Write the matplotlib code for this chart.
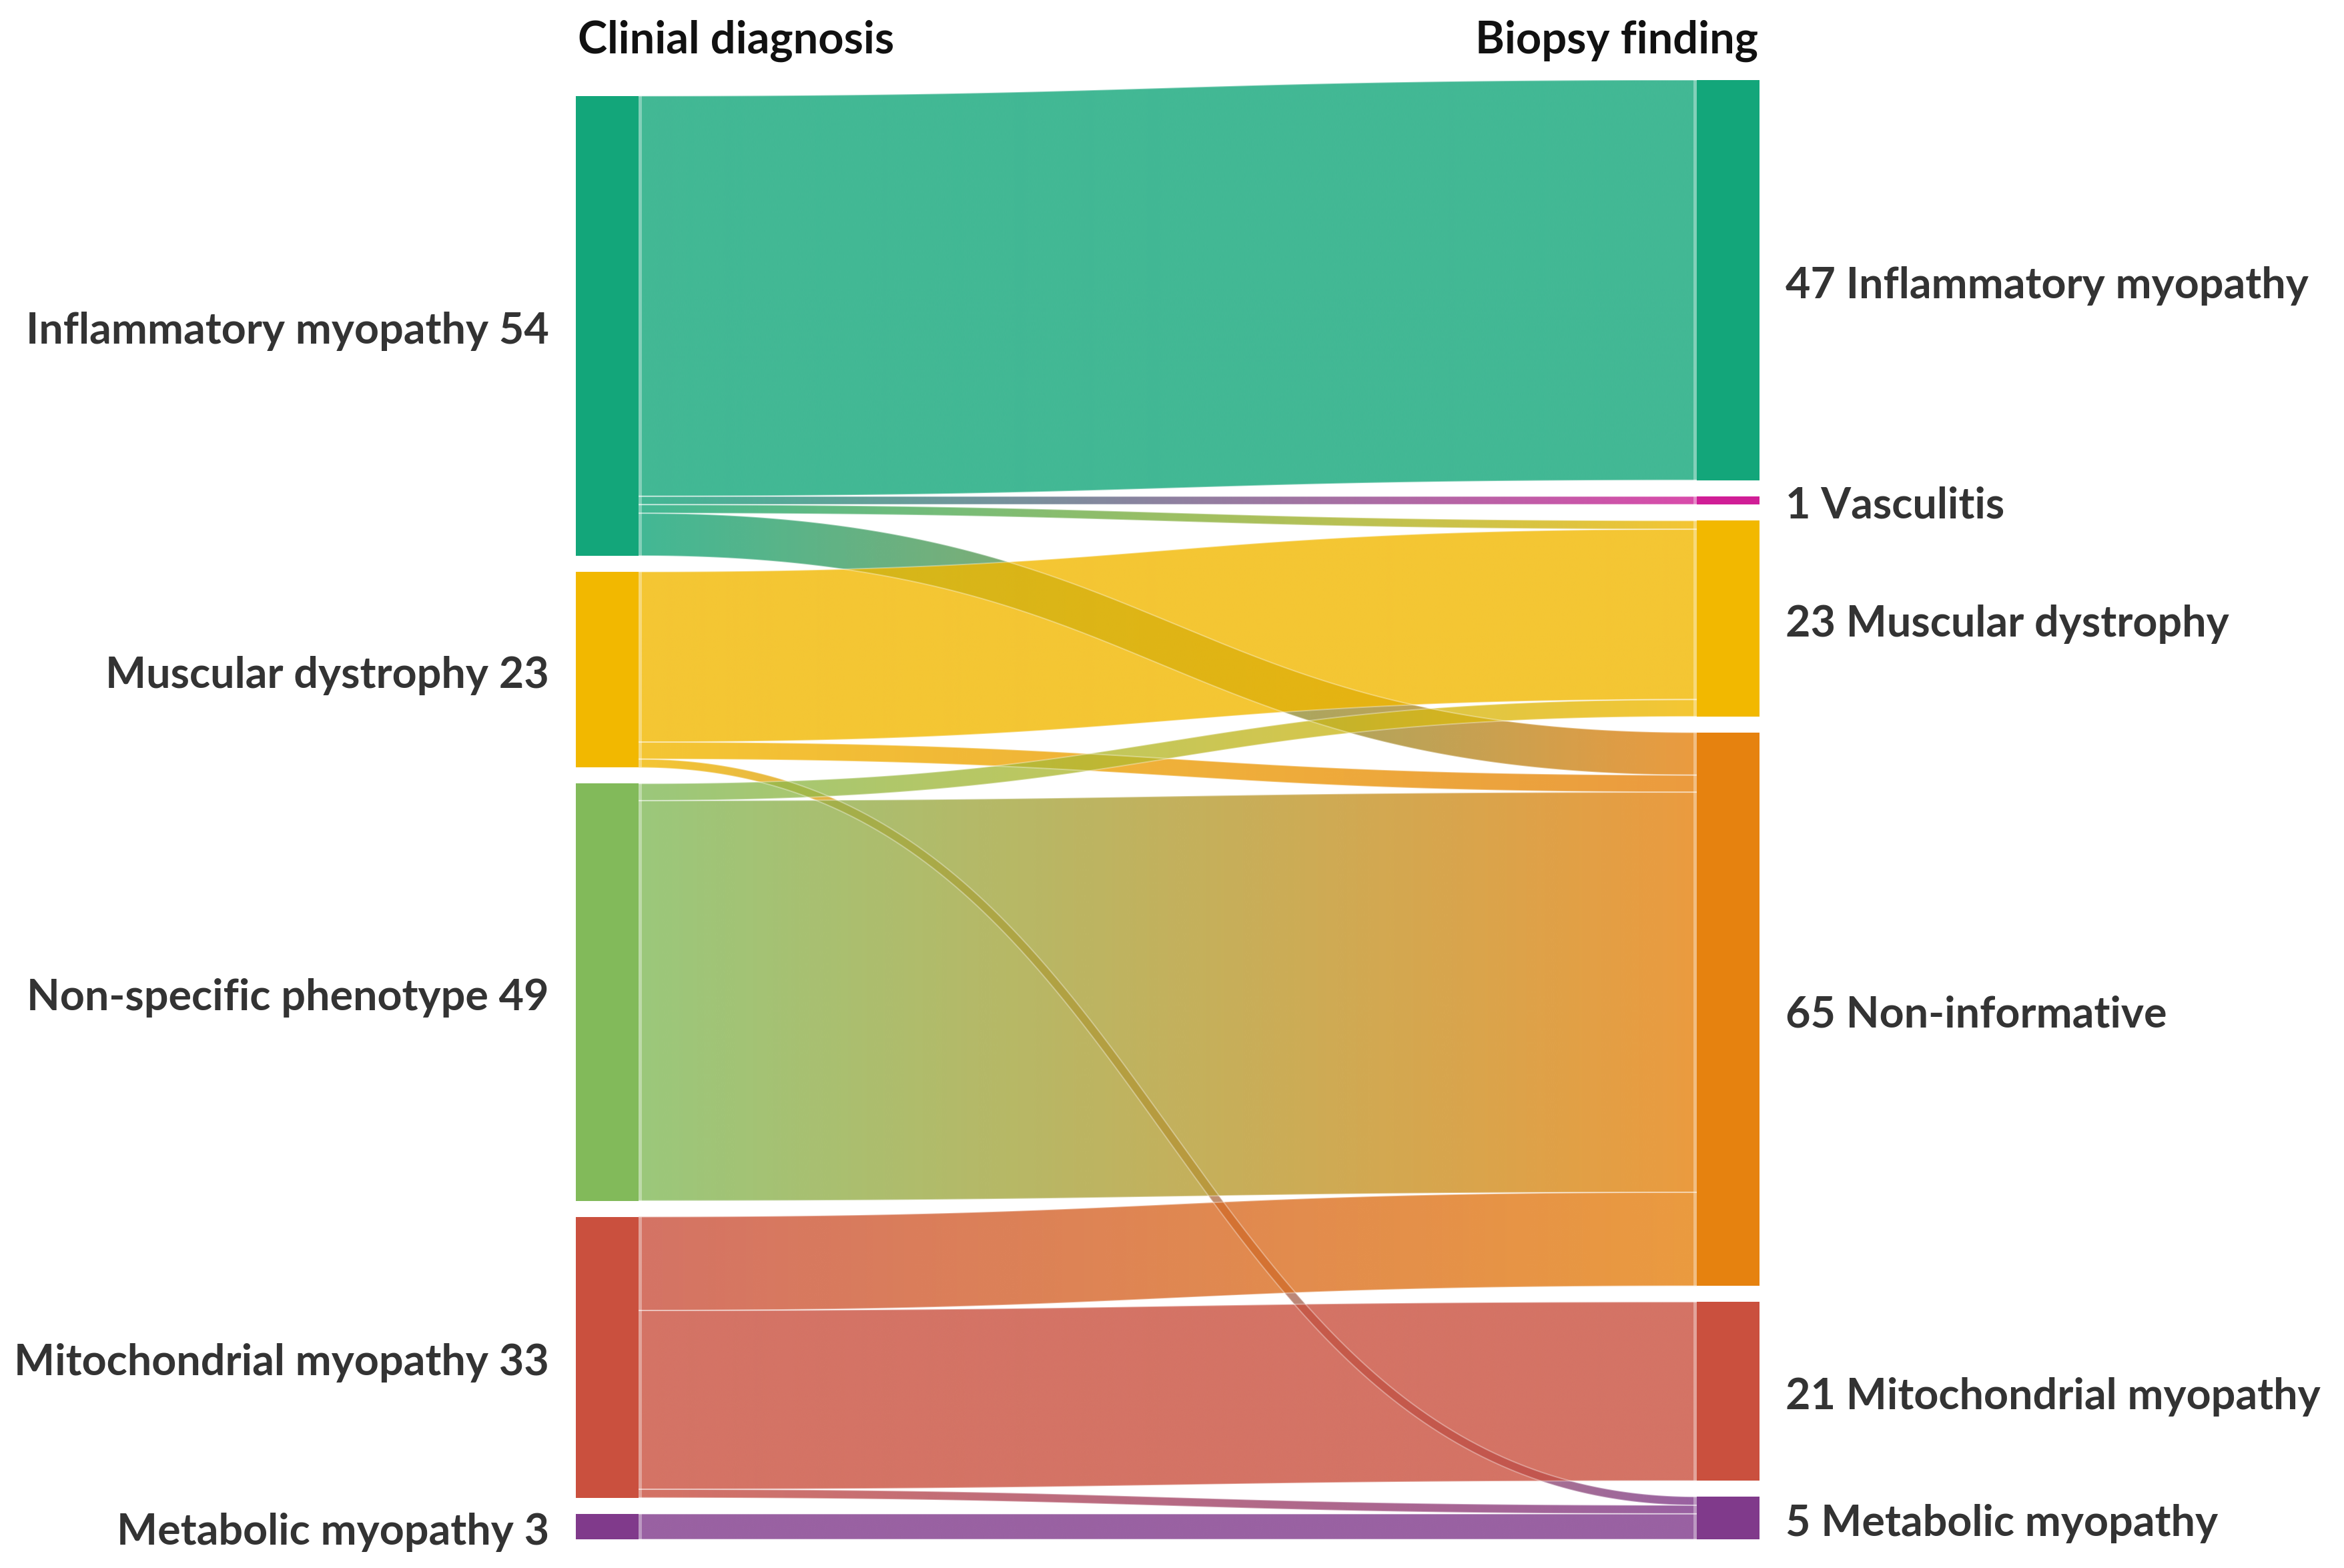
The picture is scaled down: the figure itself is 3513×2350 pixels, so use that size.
import numpy as np
import matplotlib
matplotlib.use("Agg")
import matplotlib.pyplot as plt
from matplotlib.path import Path
from matplotlib.patches import PathPatch, Rectangle
from matplotlib.colors import to_rgb

# ---------------- data ----------------
left_names = ["Inflammatory myopathy", "Muscular dystrophy", "Non-specific phenotype",
              "Mitochondrial myopathy", "Metabolic myopathy"]
left_values = [54, 23, 49, 33, 3]
left_colors = ["#13A67A", "#F2B800", "#82BA5A", "#CA503E", "#803A8B"]

right_names = ["Inflammatory myopathy", "Vasculitis", "Muscular dystrophy",
               "Non-informative", "Mitochondrial myopathy", "Metabolic myopathy"]
right_values = [47, 1, 23, 65, 21, 5]
right_colors = ["#13A67A", "#D01E96", "#F2B800", "#E6820F", "#CA503E", "#803A8B"]

# links: (source index, target index, value)
link_src = [0, 0, 0, 0, 1, 1, 1, 2, 2, 3, 3, 3, 4]
link_tgt = [0, 1, 2, 3, 2, 3, 5, 2, 3, 3, 4, 5, 5]
link_val = [47, 1, 1, 5, 20, 2, 1, 2, 47, 11, 21, 1, 3]

header_left = "Clinial diagnosis"
header_right = "Biopsy finding"

# ---------------- layout ----------------
W, H = 3513, 2350
fig = plt.figure(figsize=(W / 100, H / 100), dpi=100)
ax = fig.add_axes([0, 0, 1, 1])
ax.set_xlim(0, W)
ax.set_ylim(H, 0)
ax.axis("off")

unit = 12.76
gap = 24.0
bottom = 2307.0
lx0, lx1 = 863, 957
rx0, rx1 = 2543, 2637

def stack(values):
    total = sum(values) * unit + gap * (len(values) - 1)
    y = bottom - total
    pos = []
    for v in values:
        pos.append((y, y + v * unit))
        y += v * unit + gap
    return pos

lpos = stack(left_values)
rpos = stack(right_values)

# nodes
for (y0, y1), c in zip(lpos, left_colors):
    ax.add_patch(Rectangle((lx0, y0), lx1 - lx0, y1 - y0, facecolor=c, edgecolor="none", zorder=5))
for (y0, y1), c in zip(rpos, right_colors):
    ax.add_patch(Rectangle((rx0, y0), rx1 - rx0, y1 - y0, facecolor=c, edgecolor="none", zorder=5))

# link positions at source/target
n = len(link_val)
src_y = [0.0] * n
tgt_y = [0.0] * n
for s in range(len(left_values)):
    idx = sorted([i for i in range(n) if link_src[i] == s], key=lambda i: link_tgt[i])
    y = lpos[s][0]
    for i in idx:
        src_y[i] = y + link_val[i] * unit / 2
        y += link_val[i] * unit
for t in range(len(right_values)):
    idx = sorted([i for i in range(n) if link_tgt[i] == t], key=lambda i: link_src[i])
    y = rpos[t][0]
    for i in idx:
        tgt_y[i] = y + link_val[i] * unit / 2
        y += link_val[i] * unit

xa, xb = lx1, rx0
xm = (xa + xb) / 2
ts = np.linspace(0, 1, 400)
alpha = 0.8

for i in range(n):
    w = link_val[i] * unit
    y0, y1 = src_y[i], tgt_y[i]
    P = np.array([[xa, y0], [xm, y0], [xm, y1], [xb, y1]])
    t = ts[:, None]
    B = (1 - t) ** 3 * P[0] + 3 * (1 - t) ** 2 * t * P[1] + 3 * (1 - t) * t ** 2 * P[2] + t ** 3 * P[3]
    D = 3 * (1 - t) ** 2 * (P[1] - P[0]) + 6 * (1 - t) * t * (P[2] - P[1]) + 3 * t ** 2 * (P[3] - P[2])
    L = np.linalg.norm(D, axis=1, keepdims=True)
    N = np.hstack([-D[:, 1:2], D[:, 0:1]]) / L
    top = B - N * w / 2
    bot = B + N * w / 2
    top[0, 0] = bot[0, 0] = xa
    top[-1, 0] = bot[-1, 0] = xb
    verts = np.vstack([top, bot[::-1], top[:1]])
    codes = [Path.MOVETO] + [Path.LINETO] * (len(verts) - 2) + [Path.CLOSEPOLY]
    path = Path(verts, codes)
    patch = PathPatch(path, facecolor="none", edgecolor="none")
    ax.add_patch(patch)
    c0 = np.array(to_rgb(left_colors[link_src[i]]))
    c1 = np.array(to_rgb(right_colors[link_tgt[i]]))
    g = np.linspace(0, 1, 256)[:, None]
    cols = c0 * (1 - g) + c1 * g
    img = np.concatenate([cols, np.full((256, 1), alpha)], axis=1)[None, :, :]
    ymin, ymax = verts[:, 1].min(), verts[:, 1].max()
    im = ax.imshow(img, extent=(xa, xb, ymax, ymin), aspect="auto",
                   interpolation="bilinear", zorder=2)
    im.set_clip_path(patch)
    ax.plot(top[:, 0], top[:, 1], color="white", alpha=0.35, lw=1.4, zorder=3)
    ax.plot(bot[:, 0], bot[:, 1], color="white", alpha=0.35, lw=1.4, zorder=3)
    ax.add_patch(Rectangle((xa, y0 - w / 2), 5, w, facecolor="white", alpha=0.35,
                           edgecolor="none", zorder=3))
    ax.add_patch(Rectangle((xb - 5, y1 - w / 2), 5, w, facecolor="white", alpha=0.35,
                           edgecolor="none", zorder=3))

ax.set_xlim(0, W)
ax.set_ylim(H, 0)

# ---------------- text ----------------
fam = ["Lato", "DejaVu Sans"]
fs = 46.5
cap = 27  # baseline offset below node centre
for (y0, y1), name, v in zip(lpos, left_names, left_values):
    ax.text(823, (y0 + y1) / 2 + cap, f"{name} {v}", ha="right", va="baseline",
            fontsize=fs, fontweight="bold", color="#333333", family=fam, zorder=6)
for (y0, y1), name, v in zip(rpos, right_names, right_values):
    ax.text(2676, (y0 + y1) / 2 + cap, f"{v} {name}", ha="left", va="baseline",
            fontsize=fs, fontweight="bold", color="#333333", family=fam, zorder=6)

ax.text(866, 80, header_left, ha="left", va="baseline", fontsize=48,
        fontweight="bold", color="#111111", family=fam)
ax.text(2635, 80, header_right, ha="right", va="baseline", fontsize=48,
        fontweight="bold", color="#111111", family=fam)

fig.savefig("out.png", dpi=100, facecolor="white")
